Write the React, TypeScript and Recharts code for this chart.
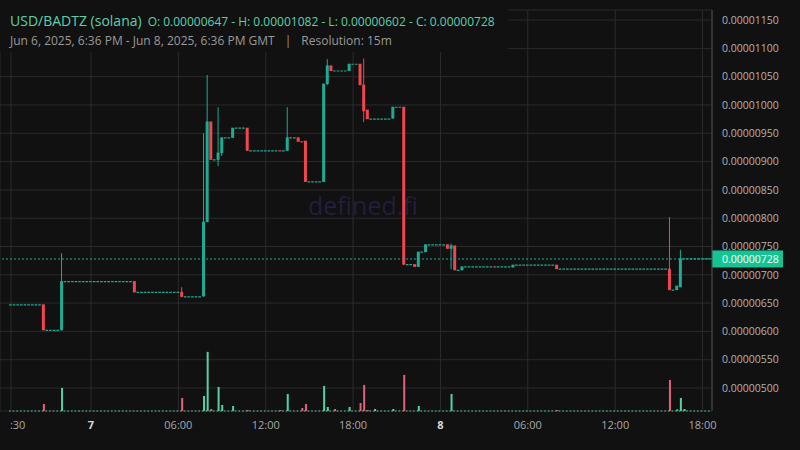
import { ComposedChart, Bar, XAxis, YAxis, CartesianGrid, ReferenceLine } from "recharts";

const UP = "#1fab93";
const DOWN = "#ef4650";
const VOL_UP = "#56d0aa";
const VOL_DOWN = "#e2627a";
const BG = "#111111";
const GRID = "#2b2b2b";

// time in hours from Jun 7 2025 00:00 GMT, prices in units of 1e-6 USD
const candleTimes = [
  -3.25, -2, 3, 6.25, 7.75, 8, 8.25, 8.75, 9, 9.75, 10.75, 13, 13.5, 14.25, 14.5, 14.75,
  16, 16.25, 16.5, 17.75, 18.5, 18.75, 19, 20.75, 21.5, 22.25, 22.5, 23, 24.5, 24.75, 25,
  25.5, 27.75, 29, 32, 39.75, 40.25, 40.5,
];
const opens = [
  6.47, 6.02, 6.88, 6.69, 6.62, 7.93, 9.7, 9.03, 9.15, 9.42, 9.59, 9.19, 9.19, 9.42, 9.35, 9.36,
  8.64, 10.37, 10.69, 10.6, 10.72, 10.35, 9.91, 9.76, 9.96, 7.18, 7.14, 7.4, 7.53, 7.46, 7.51,
  7.08, 7.14, 7.13, 7.17, 7.1, 6.73, 6.78,
];
const highs = [
  6.47, 7.38, 6.88, 6.78, 9.5, 10.53, 9.7, 9.96, 9.42, 9.59, 9.59, 9.19, 9.96, 9.42, 9.35, 9.36,
  10.37, 10.81, 10.69, 10.72, 10.72, 10.82, 9.91, 9.96, 9.96, 7.18, 7.4, 7.53, 7.53, 7.55, 7.51,
  7.14, 7.14, 7.17, 7.17, 8.02, 6.8, 7.44,
];
const lows = [
  6.02, 6.02, 6.69, 6.61, 6.61, 7.93, 9.03, 8.92, 9.1, 9.42, 9.19, 9.18, 9.19, 9.35, 9.34, 8.64,
  8.64, 10.35, 10.6, 10.6, 10.35, 9.7, 9.75, 9.76, 7.17, 7.14, 7.14, 7.4, 7.46, 7.1, 7.08,
  7.08, 7.13, 7.13, 7.1, 6.73, 6.73, 6.78,
];
const closes = [
  6.02, 6.88, 6.69, 6.61, 7.93, 9.7, 9.03, 9.15, 9.42, 9.59, 9.19, 9.18, 9.42, 9.35, 9.34, 8.64,
  10.37, 10.69, 10.6, 10.72, 10.35, 9.89, 9.75, 9.96, 7.18, 7.14, 7.4, 7.53, 7.46, 7.51, 7.08,
  7.14, 7.13, 7.17, 7.1, 6.73, 6.8, 7.28,
];

// 15m bars with no trades: price held flat
const flatFrom = [-5.5, -3, -1.75, 3.25, 6.5, 8.5, 9.25, 10, 11, 13.25, 13.75, 15, 16.75, 18, 19.25, 21, 21.75, 22.75, 23.25, 25.25, 25.75, 28, 29.25, 32.25, 40, 40.75];
const flatTo = [-3.5, -2.25, 2.75, 6, 7.5, 8.5, 9.5, 10.5, 12.75, 13.25, 14, 15.75, 17.5, 18.25, 20.5, 21.25, 22, 22.75, 24.25, 25.25, 27.5, 28.75, 31.75, 39.5, 40, 42.5];
const flatPrice = [6.47, 6.02, 6.88, 6.69, 6.61, 9.03, 9.42, 9.59, 9.19, 9.19, 9.42, 8.64, 10.6, 10.72, 9.75, 9.96, 7.18, 7.4, 7.53, 7.08, 7.14, 7.14, 7.17, 7.1, 6.73, 7.28];

const volTimes = [
  -3.25, -2, 6.25, 7.75, 8, 8.25, 8.75, 9, 9.75, 10.75, 13, 13.5, 14.5, 14.75, 16, 16.25,
  16.75, 17.75, 18.5, 18.75, 19, 19.5, 20.75, 21.5, 22.5, 24.75, 32, 39.75, 40.25, 40.5, 40.75,
];
const volumes = [
  350, 1150, 650, 750, 2950, 100, 1200, 300, 250, 50, 50, 850, 150, 350, 1250, 200,
  100, 200, 400, 1300, 50, 100, 100, 1800, 250, 850, 50, 1550, 80, 650, 100,
];
const volUp = [
  false, true, false, true, true, false, true, true, true, false, false, true, false, false, true, true,
  false, true, false, false, false, true, true, false, true, true, false, false, true, true, true,
];

const timeTicks = [-5.5, 0, 6, 12, 18, 24, 30, 36, 42];
const timeLabels = [":30", "7", "06:00", "12:00", "18:00", "8", "06:00", "12:00", "18:00"];
const priceTicks = [5, 5.5, 6, 6.5, 7, 7.5, 8, 8.5, 9, 9.5, 10, 10.5, 11, 11.5];
const lastClose = 7.28;
const sessionHigh = 10.82;
const sessionLow = 6.02;

type Row = {
  t: number;
  open?: number;
  high?: number;
  low?: number;
  close?: number;
  vol?: number;
  volUp?: boolean;
};

const rowMap = new Map<number, Row>();
candleTimes.forEach((t, i) => {
  rowMap.set(t, { t, open: opens[i], high: highs[i], low: lows[i], close: closes[i] });
});
volTimes.forEach((t, i) => {
  const r = rowMap.get(t) ?? { t };
  r.vol = volumes[i];
  r.volUp = volUp[i];
  rowMap.set(t, r);
});
const rows = Array.from(rowMap.values()).sort((a, b) => a.t - b.t);

const fmtPrice = (v: number) => (v / 1e6).toFixed(8);

function Candle(props: any) {
  const { x, y, width, height, payload } = props;
  if (!payload || payload.open == null || !Number.isFinite(y)) return null;
  const { open, close, high, low } = payload;
  const color = close >= open ? UP : DOWN;
  const top = Math.min(y, y + height);
  const h = Math.abs(height);
  const range = high - low;
  const toY = (v: number) => (range > 0 ? top + ((high - v) / range) * h : top);
  const bTop = toY(Math.max(open, close));
  const bBot = toY(Math.min(open, close));
  const cx = x + width / 2;
  return (
    <g>
      {range > 0 && <line x1={cx} x2={cx} y1={top} y2={top + h} stroke={color} strokeWidth={1} />}
      <rect x={x} y={bTop - 0.5} width={width} height={Math.max(1, bBot - bTop + 0.5)} fill={color} />
    </g>
  );
}

function VolBar(props: any) {
  const { x, y, width, height, payload } = props;
  if (!payload || payload.vol == null || !Number.isFinite(y)) return null;
  return <rect x={x} y={y} width={width} height={Math.max(1, height)} fill={payload.volUp ? VOL_UP : VOL_DOWN} />;
}

function TimeTick(props: any) {
  const { x, y, payload } = props;
  const i = timeTicks.indexOf(payload.value);
  const label = timeLabels[i] ?? "";
  const isDay = label.length === 1;
  const clipped = label.startsWith(":");
  return (
    <text
      x={clipped ? x - 1 : x}
      y={y + 10}
      textAnchor={clipped ? "start" : "middle"}
      fontSize={11}
      fontWeight={isDay ? 700 : 400}
      fill={isDay ? "#d8d8d8" : "#a8a8a8"}
      fontFamily="Open Sans"
    >
      {label}
    </text>
  );
}

function PriceTag(props: any) {
  const vb = props.viewBox;
  if (!vb) return null;
  const x0 = vb.x + vb.width;
  return (
    <g>
      <rect x={x0} y={vb.y - 8.5} width={71} height={17} fill="#14c493" />
      <text x={x0 + 10} y={vb.y + 4} fontSize={10.5} fill="#ffffff" fontFamily="Open Sans">
        {fmtPrice(lastClose)}
      </text>
    </g>
  );
}

export default function App() {
  return (
    <div
      style={{
        position: "fixed",
        left: 0,
        top: 0,
        width: 800,
        height: 450,
        background: BG,
        fontFamily: "Open Sans",
        overflow: "hidden",
      }}
    >
      <div
        style={{
          position: "absolute",
          left: 308,
          top: 188,
          fontSize: 25,
          color: "#201f3c",
        }}
      >
        defined.fi
      </div>
      <div style={{ position: "absolute", left: 0, top: 0 }}>
        <ComposedChart width={800} height={450} data={rows} margin={{ top: 10, right: 0, bottom: 0, left: 0 }}>
          <CartesianGrid stroke={GRID} strokeWidth={1} />
          <XAxis
            dataKey="t"
            type="number"
            domain={[-6.25, 42.65]}
            allowDataOverflow
            ticks={timeTicks}
            tick={<TimeTick />}
            tickLine={false}
            axisLine={false}
            height={39}
            interval={0}
          />
          <XAxis xAxisId="v" dataKey="t" type="number" domain={[-6.25, 42.65]} allowDataOverflow hide />
          <YAxis
            orientation="right"
            width={88}
            type="number"
            domain={[4.594, 11.678]}
            allowDataOverflow
            ticks={priceTicks}
            interval={0}
            tickFormatter={fmtPrice}
            tick={{ fontSize: 10.5, fill: "#b4b4b4", fontFamily: "Open Sans" }}
            tickLine={false}
            tickMargin={4}
            axisLine={{ stroke: "#4a4a4a" }}
          />
          <YAxis yAxisId="vol" type="number" domain={[0, 20000]} hide />
          {flatFrom.map((f, i) => (
            <ReferenceLine
              key={"flat" + i}
              segment={[
                { x: f - 0.125, y: flatPrice[i] },
                { x: flatTo[i] + 0.125, y: flatPrice[i] },
              ]}
              stroke={UP}
              strokeWidth={1.2}
              strokeDasharray="2.6 1.04"
            />
          ))}
          <ReferenceLine y={lastClose} stroke={UP} strokeDasharray="2 2" label={<PriceTag />} />
          <ReferenceLine
            xAxisId="v"
            yAxisId="vol"
            segment={[
              { x: -5.625, y: 0 },
              { x: 42.625, y: 0 },
            ]}
            stroke={VOL_UP}
            strokeWidth={1}
            strokeDasharray="1.6 2.04"
          />
          <Bar xAxisId="v" yAxisId="vol" dataKey="vol" barSize={2} shape={<VolBar />} isAnimationActive={false} />
          <Bar
            dataKey={(d: Row) => (d.open == null ? null : [d.low, d.high])}
            barSize={3}
            shape={<Candle />}
            isAnimationActive={false}
          />
        </ComposedChart>
      </div>
      <div
        style={{
          position: "absolute",
          left: 0,
          top: 0,
          width: 508,
          height: 52,
          background: BG,
        }}
      >
        <div style={{ position: "absolute", left: 10, top: 9, whiteSpace: "nowrap", color: "#5fd0ad" }}>
          <span style={{ fontSize: 14 }}>USD/BADTZ (solana)</span>
          <span style={{ fontSize: 12, marginLeft: 6 }}>
            O: {fmtPrice(opens[0])} - H: {fmtPrice(sessionHigh)} - L: {fmtPrice(sessionLow)} - C: {fmtPrice(lastClose)}
          </span>
        </div>
        <div style={{ position: "absolute", left: 10, top: 32, whiteSpace: "nowrap", color: "#9a9a9a", fontSize: 12 }}>
          Jun 6, 2025, 6:36 PM - Jun 8, 2025, 6:36 PM GMT
          <span style={{ margin: "0 10px" }}>|</span>
          Resolution: 15m
        </div>
      </div>
    </div>
  );
}
